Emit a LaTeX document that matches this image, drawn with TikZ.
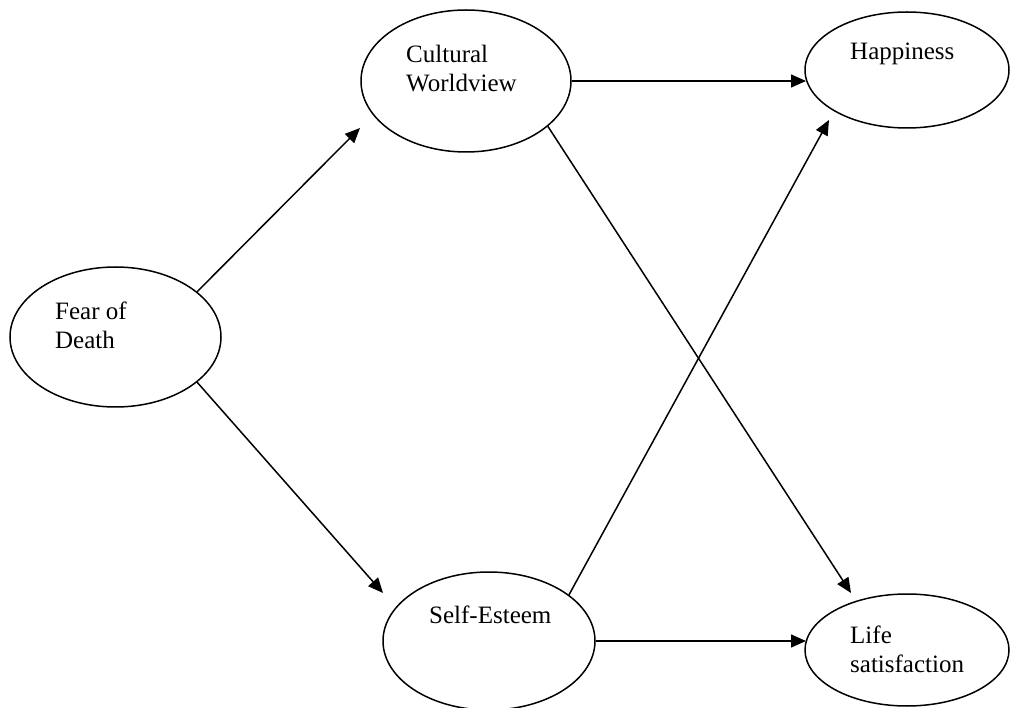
\documentclass[tikz,border=0pt]{standalone}
\usepackage{fontspec}
\setmainfont{Liberation Serif}
\usetikzlibrary{shapes.geometric,arrows.meta}

\begin{document}
\begin{tikzpicture}[x=1pt,y=-1pt,
  construct/.style={draw=black,line width=1.5pt,ellipse,inner sep=0pt},
  lbl/.style={anchor=base west,inner sep=0pt,font=\fontsize{25}{29}\selectfont},
  path/.style={draw=black,line width=1.5pt,-{Triangle[length=15pt,width=13pt]}}
]
\useasboundingbox (0,0) rectangle (1010,708);

% constructs
\node[construct,minimum width=210pt,minimum height=142pt] (cw) at (466,81) {};
\node[construct,minimum width=204pt,minimum height=116pt] (hp) at (907,70) {};
\node[construct,minimum width=211pt,minimum height=140pt] (fd) at (115.5,337) {};
\node[construct,minimum width=212pt,minimum height=138pt] (se) at (489,641) {};
\node[construct,minimum width=204pt,minimum height=112pt] (ls) at (907,650) {};

% labels inside the ellipses
\node[lbl] (cw1) at (406,63) {Cultural};
\node[lbl] (cw2) at (406,92) {Worldview};
\node[lbl] (hp1) at (850,60) {Happiness};
\node[lbl] (fd1) at (55,320) {Fear of};
\node[lbl] (fd2) at (55,349) {Death};
\node[lbl] (se1) at (429,623) {Self-Esteem};
\node[lbl] (ls1) at (850,643) {Life};
\node[lbl] (ls2) at (850,672) {satisfaction};

% arrow ends (tips stop just short of the target ellipses)
\coordinate (to-cw) at (360,128);
\coordinate (to-se) at (383,593);
\coordinate (to-hp-a) at (806,81);
\coordinate (to-hp-b) at (829,120);
\coordinate (to-ls-a) at (851,593);
\coordinate (to-ls-b) at (806,641);

% paths
\draw[path] (fd.29) -- (to-cw);
\draw[path] (fd.-29) -- (to-se);
\draw[path] (cw.east) -- (to-hp-a);
\draw[path] (cw.-29) -- (to-ls-a);
\draw[path] (se.30) -- (to-hp-b);
\draw[path] (se.east) -- (to-ls-b);
\end{tikzpicture}
\end{document}
